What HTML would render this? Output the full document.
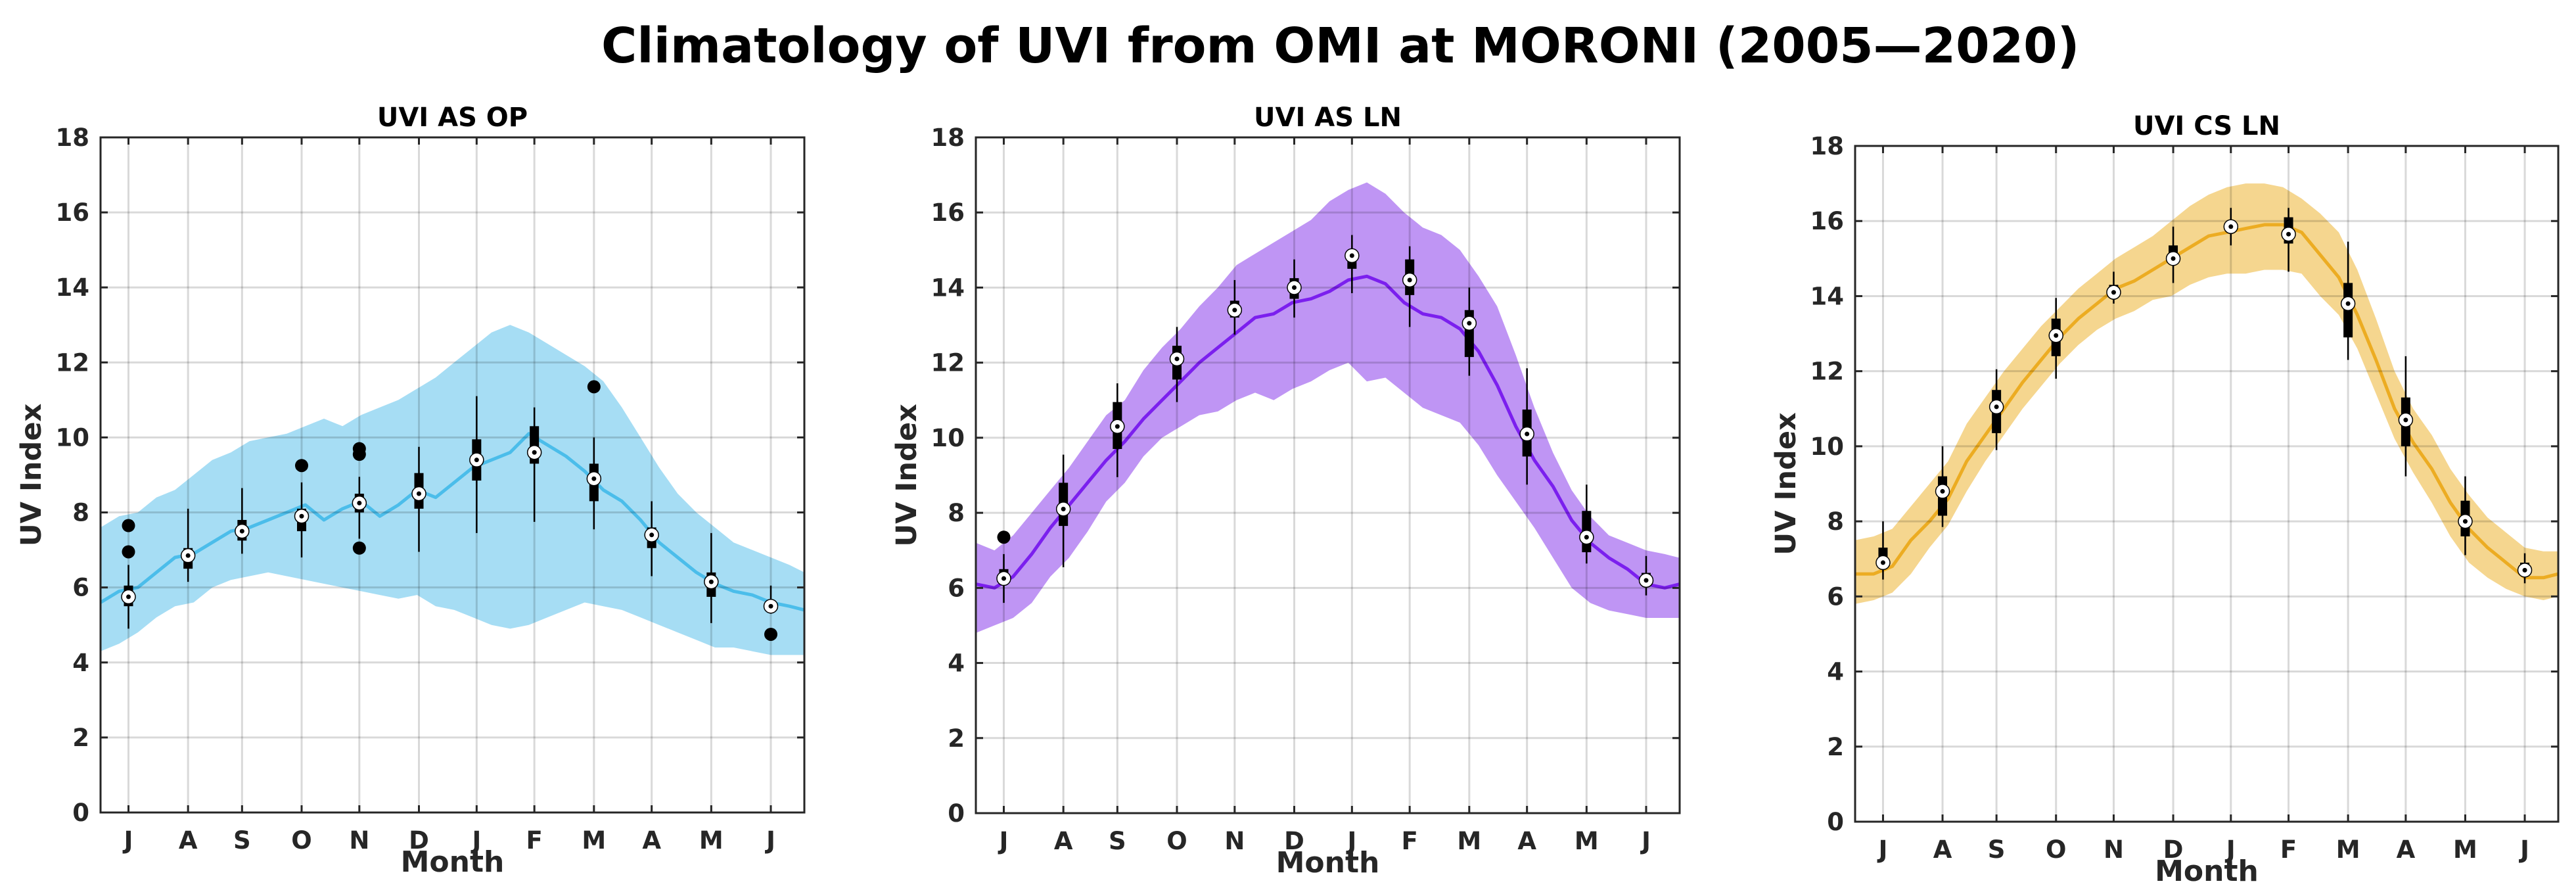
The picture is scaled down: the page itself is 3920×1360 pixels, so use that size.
<!DOCTYPE html>
<html><head><meta charset="utf-8"><title>Climatology of UVI from OMI at MORONI</title>
<style>
html,body{margin:0;padding:0;background:#fff;}
svg{display:block;font-family:"DejaVu Sans","Liberation Sans",sans-serif;font-weight:bold;}
</style></head>
<body>
<svg id="fig" width="3920" height="1360" viewBox="0 0 3920 1360" xmlns="http://www.w3.org/2000/svg">
<rect width="3920" height="1360" fill="#fff"/>
<text x="915" y="95" font-size="74" fill="#000">Climatology of UVI from OMI at MORONI (2005—2020)</text>
</svg>
<script>
// ---- shared axis data ----
const monthLabels = ['J','A','S','O','N','D','J','F','M','A','M','J'];
const monthTickDays = [15,47,76,108,139,171,202,233,265,296,328,360];
const yTicks = [0,2,4,6,8,10,12,14,16,18];
const sampleStep = 10; // days between band samples

// ---- panel 1: UVI AS OP ----
const p1Mean = [5.6,5.9,6.0,6.4,6.8,6.9,7.2,7.5,7.6,7.8,8.0,8.2,7.8,8.1,8.3,7.9,8.2,8.6,8.4,8.8,9.2,9.4,9.6,10.1,9.8,9.5,9.1,8.6,8.3,7.8,7.2,6.8,6.4,6.1,5.9,5.8,5.6,5.5,5.4];
const p1Lo = [4.3,4.5,4.8,5.2,5.5,5.6,6.0,6.2,6.3,6.4,6.3,6.2,6.1,6.0,5.9,5.8,5.7,5.8,5.5,5.4,5.2,5.0,4.9,5.0,5.2,5.4,5.6,5.5,5.4,5.2,5.0,4.8,4.6,4.4,4.4,4.3,4.2,4.2,4.2];
const p1Hi = [7.6,7.9,8.0,8.4,8.6,9.0,9.4,9.6,9.9,10.0,10.1,10.3,10.5,10.3,10.6,10.8,11.0,11.3,11.6,12.0,12.4,12.8,13.0,12.8,12.5,12.2,11.9,11.5,10.8,10.0,9.2,8.5,8.0,7.6,7.2,7.0,6.8,6.6,6.4];
const p1Median = [5.75,6.85,7.5,7.9,8.25,8.5,9.4,9.6,8.9,7.4,6.15,5.5];
const p1Q1 = [5.5,6.5,7.25,7.5,8.0,8.1,8.85,9.3,8.3,7.05,5.75,5.4];
const p1Q3 = [6.05,7.05,7.8,8.1,8.5,9.05,9.95,10.3,9.3,7.6,6.4,5.55];
const p1WLo = [4.9,6.15,6.9,6.8,7.3,6.95,7.45,7.75,7.55,6.3,5.05,5.3];
const p1WHi = [6.6,8.1,8.65,8.8,8.95,9.75,11.1,10.8,10.0,8.3,7.45,6.05];
const p1Outliers = [[6.95,7.65],[],[],[9.25],[9.55,9.7,7.05],[],[],[],[11.35],[],[],[4.75]];

// ---- panel 2: UVI AS LN ----
const p2Mean = [6.1,6.0,6.3,6.9,7.6,8.2,8.8,9.4,9.9,10.5,11.0,11.5,12.0,12.4,12.8,13.2,13.3,13.6,13.7,13.9,14.2,14.3,14.1,13.6,13.3,13.2,12.9,12.3,11.4,10.3,9.4,8.7,7.8,7.2,6.8,6.5,6.1,6.0,6.1];
const p2Lo = [4.8,5.0,5.2,5.6,6.3,6.8,7.5,8.3,8.8,9.5,10.0,10.3,10.6,10.7,11.0,11.2,11.0,11.3,11.5,11.8,12.0,11.5,11.6,11.2,10.8,10.6,10.4,9.8,9.0,8.3,7.6,6.8,6.0,5.6,5.4,5.3,5.2,5.2,5.2];
const p2Hi = [7.2,7.0,7.4,8.0,8.6,9.2,9.9,10.6,11.0,11.8,12.4,12.9,13.5,14.0,14.6,14.9,15.2,15.5,15.8,16.3,16.6,16.8,16.5,16.0,15.6,15.4,15.0,14.3,13.5,12.2,10.8,9.6,8.6,7.9,7.4,7.2,7.0,6.9,6.8];
const p2Median = [6.25,8.1,10.3,12.1,13.4,14.0,14.85,14.2,13.05,10.1,7.35,6.2];
const p2Q1 = [6.1,7.65,9.7,11.55,13.2,13.7,14.5,13.8,12.15,9.5,6.95,6.05];
const p2Q3 = [6.5,8.8,10.95,12.45,13.65,14.25,15.0,14.75,13.4,10.75,8.05,6.4];
const p2WLo = [5.6,6.55,8.95,10.95,12.75,13.2,13.85,12.95,11.65,8.75,6.65,5.8];
const p2WHi = [6.9,9.55,11.45,12.95,14.2,14.75,15.4,15.1,14.0,11.85,8.75,6.85];
const p2Outliers = [[7.35],[],[],[],[],[],[],[],[],[],[],[]];

// ---- panel 3: UVI CS LN ----
const p3Mean = [6.6,6.6,6.8,7.5,8.0,8.6,9.6,10.3,11.0,11.7,12.3,12.9,13.4,13.8,14.2,14.4,14.7,15.0,15.3,15.6,15.7,15.8,15.9,15.9,15.7,15.1,14.5,13.5,12.3,11.0,10.1,9.4,8.5,7.8,7.3,6.9,6.5,6.5,6.6];
const p3Lo = [5.8,5.9,6.1,6.6,7.3,7.9,8.8,9.6,10.3,11.0,11.6,12.2,12.7,13.1,13.4,13.6,13.9,14.0,14.3,14.5,14.6,14.6,14.7,14.7,14.6,14.0,13.5,12.6,11.4,10.2,9.3,8.5,7.6,6.9,6.5,6.2,6.0,5.9,6.0];
const p3Hi = [7.5,7.6,7.8,8.4,9.0,9.6,10.6,11.3,12.0,12.6,13.2,13.7,14.2,14.6,15.0,15.3,15.6,16.0,16.4,16.7,16.9,17.0,17.0,16.9,16.6,16.2,15.7,14.7,13.4,12.0,11.0,10.3,9.4,8.7,8.1,7.7,7.3,7.2,7.2];
const p3Median = [6.9,8.8,11.05,12.95,14.1,15.0,15.85,15.65,13.8,10.7,8.0,6.7];
const p3Q1 = [6.75,8.15,10.35,12.4,14.05,14.85,15.75,15.4,12.9,10.0,7.6,6.55];
const p3Q3 = [7.3,9.2,11.5,13.4,14.3,15.35,15.95,16.1,14.35,11.3,8.55,6.9];
const p3WLo = [6.45,7.85,9.9,11.8,13.8,14.35,15.35,14.65,12.3,9.2,7.1,6.35];
const p3WHi = [8.0,10.0,12.05,13.95,14.65,15.85,16.35,16.35,15.45,12.4,9.2,7.15];
const p3Outliers = [[],[],[],[],[],[],[],[],[],[],[],[]];

const NS='http://www.w3.org/2000/svg';
const svg=document.getElementById('fig');
function mk(tag,attrs,parent){const e=document.createElementNS(NS,tag);for(const k in attrs)e.setAttribute(k,attrs[k]);(parent||svg).appendChild(e);return e;}

function drawPanel(cfg){
  const g=mk('g',{});
  
  
  const L=cfg.left,T=cfg.top,W=cfg.width,H=cfg.height;
  const xMax=378;
  const X=d=>L+d/xMax*W;
  const Y=v=>T+H-v/18*H;
  const dayOf=i=>Math.min(i*sampleStep,xMax);
  // band
  let pts=[];
  cfg.hi.forEach((v,i)=>pts.push(X(dayOf(i)).toFixed(1)+','+Y(v).toFixed(1)));
  for(let i=cfg.lo.length-1;i>=0;i--)pts.push(X(dayOf(i)).toFixed(1)+','+Y(cfg.lo[i]).toFixed(1));
  const band=mk('polygon',{points:pts.join(' '),fill:cfg.band},g);
  
  
  const line=mk('polyline',{points:cfg.mean.map((v,i)=>X(dayOf(i)).toFixed(1)+','+Y(v).toFixed(1)).join(' '),fill:'none',stroke:cfg.line,'stroke-width':5,'stroke-linejoin':'round'},g);
  
  
  // grid
  yTicks.forEach(t=>{if(t>0&&t<18){const gl=mk('line',{x1:L,x2:L+W,y1:Y(t),y2:Y(t),stroke:'rgba(0,0,0,0.15)','stroke-width':3},g);
    
    }});
  monthTickDays.forEach(d=>{const gl=mk('line',{x1:X(d),x2:X(d),y1:T,y2:T+H,stroke:'rgba(0,0,0,0.15)','stroke-width':3},g);
    
    });
  // boxplots
  monthTickDays.forEach((d,i)=>{
    const bx=mk('g',{},g);
    
    
    const cx=X(d);
    mk('line',{x1:cx,x2:cx,y1:Y(cfg.wlo[i]),y2:Y(cfg.whi[i]),stroke:'#000','stroke-width':2.5},bx);
    mk('rect',{x:cx-7,y:Y(cfg.q3[i]),width:14,height:Y(cfg.q1[i])-Y(cfg.q3[i]),fill:'#000'},bx);
    cfg.out[i].forEach(o=>{const od=mk('circle',{cx:cx,cy:Y(o),r:10,fill:'#000'},bx);
      
      });
    mk('circle',{cx:cx,cy:Y(cfg.med[i]),r:10.5,fill:'#fff',stroke:'#000','stroke-width':1.5},bx);
    mk('circle',{cx:cx,cy:Y(cfg.med[i]),r:3.5,fill:'#000'},bx);
  });
  // axes box
  const box=mk('rect',{x:L,y:T,width:W,height:H,fill:'none',stroke:'#262626','stroke-width':3},g);
  
  
  // ticks + labels
  yTicks.forEach(t=>{
    mk('line',{x1:L,x2:L+11,y1:Y(t),y2:Y(t),stroke:'#262626','stroke-width':3},g);
    mk('line',{x1:L+W-11,x2:L+W,y1:Y(t),y2:Y(t),stroke:'#262626','stroke-width':3},g);
    const tl=mk('text',{x:L-17,y:Y(t)+13,'text-anchor':'end','font-size':37,fill:'#262626'},g);
    
    
    tl.textContent=t;
  });
  monthTickDays.forEach((d,i)=>{
    mk('line',{x1:X(d),x2:X(d),y1:T+H-11,y2:T+H,stroke:'#262626','stroke-width':3},g);
    mk('line',{x1:X(d),x2:X(d),y1:T,y2:T+11,stroke:'#262626','stroke-width':3},g);
    const tl=mk('text',{x:X(d),y:T+H+55,'text-anchor':'middle','font-size':37,fill:'#262626'},g);
    
    
    tl.textContent=monthLabels[i];
  });
  const xt=mk('text',{x:L+W/2,y:T+H+90,'text-anchor':'middle','font-size':44,fill:'#262626'},g);
  
  
  xt.textContent='Month';
  const yt=mk('text',{x:0,y:0,'text-anchor':'middle','font-size':43,fill:'#262626',transform:`translate(${L-91},${T+H/2}) rotate(-90)`},g);
  
  
  yt.textContent='UV Index';
  const pt=mk('text',{x:L+W/2,y:T-17,'text-anchor':'middle','font-size':40,fill:'#000'},g);
  
  
  pt.textContent=cfg.title;
}

drawPanel({name:'panel-uvi-as-op',title:'UVI AS OP',left:153,top:209,width:1071,height:1027,band:'#a6ddf4',line:'#4bbdea',mean:p1Mean,lo:p1Lo,hi:p1Hi,med:p1Median,q1:p1Q1,q3:p1Q3,wlo:p1WLo,whi:p1WHi,out:p1Outliers});
drawPanel({name:'panel-uvi-as-ln',title:'UVI AS LN',left:1485,top:209,width:1071,height:1028,band:'#bf95f4',line:'#7b1fee',mean:p2Mean,lo:p2Lo,hi:p2Hi,med:p2Median,q1:p2Q1,q3:p2Q3,wlo:p2WLo,whi:p2WHi,out:p2Outliers});
drawPanel({name:'panel-uvi-cs-ln',title:'UVI CS LN',left:2823,top:222,width:1070,height:1028,band:'#f5d68f',line:'#ecac22',mean:p3Mean,lo:p3Lo,hi:p3Hi,med:p3Median,q1:p3Q1,q3:p3Q3,wlo:p3WLo,whi:p3WHi,out:p3Outliers});
</script>
</body></html>
